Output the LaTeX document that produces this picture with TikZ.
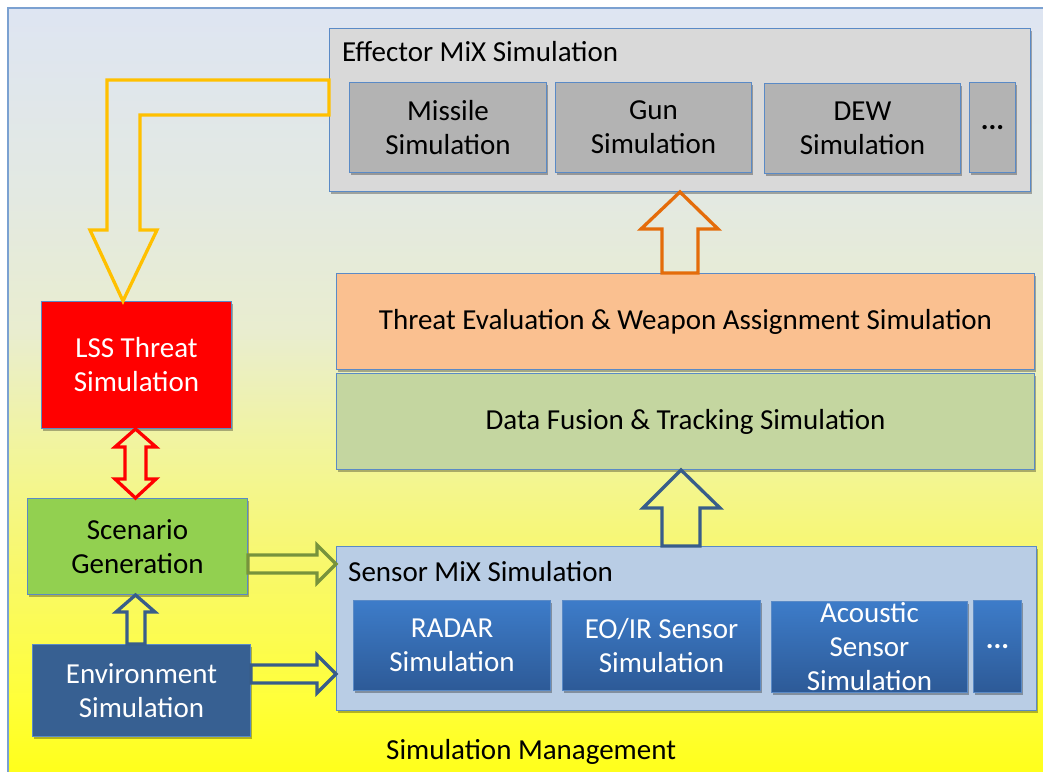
\documentclass[tikz,border=0pt]{standalone}
\usepackage{fontspec}
\setmainfont{Carlito}
\usetikzlibrary{shadows,calc}
\definecolor{pT}{HTML}{DEE5F2}
\definecolor{pA}{HTML}{E3E9E2}
\definecolor{pB}{HTML}{E9EDCF}
\definecolor{pC}{HTML}{F2F59A}
\definecolor{pD}{HTML}{F8F86C}
\definecolor{pE}{HTML}{FFFF38}
\definecolor{pY}{HTML}{FFFF18}
\definecolor{bord}{HTML}{5A8AC6}
\definecolor{effFill}{HTML}{D9D9D9}
\definecolor{effSub}{HTML}{B3B3B3}
\definecolor{senFill}{HTML}{B9CDE5}
\definecolor{senTop}{HTML}{3D7CC9}
\definecolor{senBot}{HTML}{2D5A97}
\definecolor{thrFill}{HTML}{FAC090}
\definecolor{fusFill}{HTML}{C4D6A0}
\definecolor{lssFill}{HTML}{FF0000}
\definecolor{scnFill}{HTML}{92D050}
\definecolor{envFill}{HTML}{376092}
\definecolor{aYellow}{HTML}{FFC000}
\definecolor{aOrange}{HTML}{E46C0A}
\definecolor{aBlue}{HTML}{385D8A}
\definecolor{aGreen}{HTML}{77933C}
\definecolor{aRed}{HTML}{FF0000}
\pgfdeclareverticalshading{panelbg}{100bp}{color(0bp)=(pY); color(25bp)=(pY); color(30bp)=(pE); color(39bp)=(pD); color(46bp)=(pC); color(54bp)=(pB); color(63bp)=(pA); color(75bp)=(pT); color(100bp)=(pT)}
\tikzset{
  box/.style={draw=bord, line width=1pt, anchor=north west, inner sep=0pt, align=center, text=black, font=\fontsize{29}{34}\selectfont},
  shad/.style={drop shadow={shadow xshift=1.5pt, shadow yshift=-2pt, opacity=0.3, fill=black}},
  subE/.style={box, fill=effSub, shad},
  subS/.style={box, top color=senTop, bottom color=senBot, text=white, shad},
  titletext/.style={anchor=base west, inner sep=0pt, font=\fontsize{29}{34}\selectfont},
  barrow/.style={line width=3.3pt, line join=miter},
}
\begin{document}
\begin{tikzpicture}[x=1pt,y=-1pt]
\useasboundingbox (0,0) rectangle (1043,771);
\fill[white] (0,0) rectangle (1043,771);
\shade[shading=panelbg] (8,8) rectangle (1052,780);
\draw[bord!80, line width=1.2pt] (8,780) -- (8,8) -- (1052,8);

% effector group
\node[box, fill=effFill, shad, minimum width=701, minimum height=163] (eff) at (329,28) {};
\node[titletext] (effT) at (342,61) {Effector MiX Simulation};
\node[subE, minimum width=197, minimum height=90] (mis) at (349,82) {Missile\\Simulation};
\node[subE, minimum width=196, minimum height=90] (gun) at (555,82) {Gun\\Simulation};
\node[subE, minimum width=196, minimum height=90] (dew) at (764,83) {DEW\\Simulation};
\node[subE, minimum width=46, minimum height=90, font=\fontsize{29}{34}\selectfont\bfseries] (dotE) at (969,82) {...};

% middle layers
\node[box, fill=thrFill, shad, minimum width=698, minimum height=96] (thr) at (336,273) {Threat Evaluation \& Weapon Assignment Simulation};
\node[box, fill=fusFill, shad, minimum width=698, minimum height=96] (fus) at (336,373) {Data Fusion \& Tracking Simulation};

% sensor group
\node[box, fill=senFill, shad, minimum width=700, minimum height=164] (sen) at (336,546) {};
\node[titletext] (senT) at (348,581) {Sensor MiX Simulation};
\node[subS, minimum width=197, minimum height=90] (rad) at (353,600) {RADAR\\Simulation};
\node[subS, minimum width=198, minimum height=90] (eoir) at (562,600) {EO/IR Sensor\\Simulation};
\node[subS, minimum width=196, minimum height=91] (aco) at (771,601) {Acoustic\\Sensor\\Simulation};
\node[subS, minimum width=48, minimum height=92, font=\fontsize{29}{34}\selectfont\bfseries] (dotS) at (973,600) {...};

% left column
\node[box, fill=lssFill, text=white, shad, minimum width=190, minimum height=127] (lss) at (41,301) {LSS Threat\\Simulation};
\node[box, fill=scnFill, shad, minimum width=220, minimum height=96] (scn) at (27,498) {Scenario\\Generation};
\node[box, fill=envFill, text=white, shad, minimum width=218, minimum height=92] (env) at (32,644) {Environment\\Simulation};

\node[titletext] (mgmt) at (386,759) {Simulation Management};

% block arrows
\draw[barrow, draw=aYellow] (eff.west |- 0,80) -- (107,80) -- (107,230) -- (90,230) -- (123,0 |- lss.north) -- (157,230) -- (140,230) -- (140,115) -- (eff.west |- 0,115) -- cycle;
\draw[barrow, draw=aOrange] (662,0 |- thr.north) -- (662,229) -- (641,229) -- (680,0 |- eff.south) -- (718,229) -- (698,229) -- (698,0 |- thr.north) -- cycle;
\draw[barrow, draw=aBlue] (662,0 |- sen.north) -- (662,508) -- (643,508) -- (681,0 |- fus.south) -- (720,508) -- (700,508) -- (700,0 |- sen.north) -- cycle;
\draw[barrow, draw=aRed] (146,447) -- (156,447) -- (135.5,0 |- lss.south) -- (115,447) -- (125,447) -- (125,479) -- (115,479) -- (135.5,0 |- scn.north) -- (156,479) -- (146,479) -- cycle;
\draw[barrow, draw=aBlue] (127,0 |- env.north) -- (127,612) -- (116,612) -- (135.5,0 |- scn.south) -- (155,612) -- (145,612) -- (145,0 |- env.north) -- cycle;
\draw[barrow, draw=aGreen] (scn.east |- 0,555) -- (317,555) -- (317,545) -- (sen.west |- 0,564) -- (317,583) -- (317,573) -- (scn.east |- 0,573) -- cycle;
\draw[barrow, draw=aBlue] (env.east |- 0,665) -- (317,665) -- (317,655) -- (sen.west |- 0,674) -- (317,693) -- (317,683) -- (env.east |- 0,683) -- cycle;
\end{tikzpicture}
\end{document}
